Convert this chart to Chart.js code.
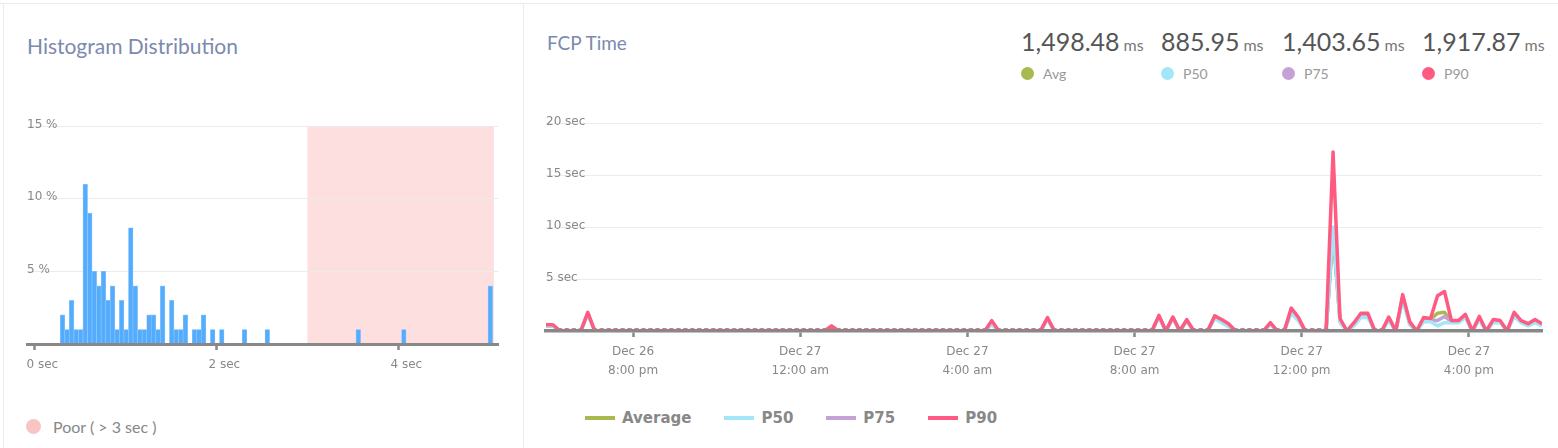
<!DOCTYPE html>
<html>
<head>
<meta charset="utf-8">
<title>FCP Time</title>
<script src="https://cdn.jsdelivr.net/npm/chart.js@4.4.1/dist/chart.umd.min.js"></script>
<style>
  body { margin: 0; width: 1558px; height: 448px; overflow: hidden; background: #fff; position: relative; font-family: Lato, "Noto Sans", sans-serif; }
  .edge { position: absolute; background: #ececec; }
  .title { position: absolute; font-size: 19px; line-height: 24px; color: #7b8aae; white-space: nowrap; }
  .box { position: absolute; }
  .stat { position: absolute; top: 26px; line-height: 30px; white-space: nowrap; color: #555; }
  .stat b { font-weight: 400; font-size: 25px; }
  .stat span { font-size: 16px; color: #777; margin-left: 4px; }
  .key { position: absolute; top: 66px; line-height: 16px; font-size: 14px; color: #999; padding-left: 22px; white-space: nowrap; }
  .key i { position: absolute; left: 0; top: 1px; width: 13px; height: 13px; border-radius: 50%; }
  #legend { position: absolute; left: 585px; top: 407px; white-space: nowrap; font: bold 15px "DejaVu Sans", sans-serif; color: #888; }
  #legend div { display: inline-block; margin-right: 33px; line-height: 22px; }
  #legend i { display: inline-block; width: 30px; height: 4px; margin-right: 7px; vertical-align: middle; position: relative; top: -1px; }
  .poor { position: absolute; left: 26px; top: 416px; font-size: 16px; line-height: 22px; color: #888; padding-left: 27px; white-space: nowrap; }
  .poor i { position: absolute; left: 0; top: 3px; width: 15px; height: 15px; border-radius: 50%; background: #f9c4c4; }
</style>
</head>
<body>
<div class="edge" style="left:0;top:3px;width:1558px;height:1px"></div>
<div class="edge" style="left:3px;top:3px;width:1px;height:445px"></div>
<div class="edge" style="left:523px;top:3px;width:1px;height:445px"></div>

<div class="title" style="left:27px;top:34px;font-size:21px">Histogram Distribution</div>
<div class="title" style="left:547px;top:31px">FCP Time</div>

<div class="box" style="left:0;top:100px;width:520px;height:290px"><canvas id="histChart" width="520" height="290"></canvas></div>
<div class="poor"><i></i>Poor ( &gt; 3 sec )</div>

<div id="stats"></div>
<div class="box" style="left:523px;top:95px;width:1035px;height:300px"><canvas id="fcpChart" width="1035" height="300"></canvas></div>
<div id="legend"></div>

<script>
// histogram buckets (0.05 s wide), centre of bucket in seconds -> share of loads in %
const histSec = [0.31, 0.36, 0.41, 0.46, 0.51, 0.56, 0.61, 0.66, 0.71, 0.76, 0.81, 0.86, 0.91, 0.96, 1.01, 1.06,
                 1.11, 1.16, 1.21, 1.26, 1.31, 1.36, 1.41, 1.51, 1.56, 1.61, 1.66, 1.76, 1.81, 1.86, 1.96, 2.06,
                 2.31, 2.56, 3.56, 4.06, 5.01];
const histPct = [2, 1, 3, 1, 1, 11, 9, 5, 4, 5, 3, 4, 1, 3, 1, 8,
                 4, 1, 1, 2, 2, 1, 4, 3, 1, 1, 2, 1, 1, 2, 1, 1,
                 1, 1, 1, 1, 4];
const histTicks = [0, 2, 4];
const poorFrom = 3;
const poorTo = 5.05;

// FCP over time, one sample every 10 min starting Dec 26 5:55 pm (x = minutes after 6:00 pm)
const firstSample = -5;
const sampleStep = 10;
const p90Sec = [
  0.6, 0.6, 0, 0, 0, 0, 1.8, 0, 0, 0, 0, 0,
  0, 0, 0, 0, 0, 0, 0, 0, 0, 0, 0, 0,
  0, 0, 0, 0, 0, 0, 0, 0, 0, 0, 0, 0,
  0, 0, 0, 0, 0, 0.5, 0, 0, 0, 0, 0, 0,
  0, 0, 0, 0, 0, 0, 0, 0, 0, 0, 0, 0,
  0, 0, 0, 0, 1.0, 0, 0, 0, 0, 0, 0, 0,
  1.3, 0, 0, 0, 0, 0, 0, 0, 0, 0, 0, 0,
  0, 0, 0, 0, 1.5, 0, 1.35, 0, 1.1, 0, 0, 0,
  1.45, 1.1, 0.7, 0, 0, 0, 0, 0, 0.8, 0, 0, 2.2,
  1.35, 0, 0, 0, 0, 17.2, 1.2, 0, 0.8, 1.7, 1.7, 0,
  0, 1.35, 0, 3.5, 0.9, 0, 1.3, 1.2, 3.4, 3.8, 1.0, 1.0,
  1.6, 0, 1.4, 0, 1.1, 1.0, 0, 1.8, 1.0, 0.7, 1.1, 0.7
];
const p75Sec = [
  0.5, 0.5, 0, 0, 0, 0, 1.7, 0, 0, 0, 0, 0,
  0, 0, 0, 0, 0, 0, 0, 0, 0, 0, 0, 0,
  0, 0, 0, 0, 0, 0, 0, 0, 0, 0, 0, 0,
  0, 0, 0, 0, 0, 0.4, 0, 0, 0, 0, 0, 0,
  0, 0, 0, 0, 0, 0, 0, 0, 0, 0, 0, 0,
  0, 0, 0, 0, 0.8, 0, 0, 0, 0, 0, 0, 0,
  1.2, 0, 0, 0, 0, 0, 0, 0, 0, 0, 0, 0,
  0, 0, 0, 0, 1.4, 0, 1.3, 0, 1.0, 0, 0, 0,
  1.35, 0.95, 0.6, 0, 0, 0, 0, 0, 0.7, 0, 0, 2.0,
  1.2, 0, 0, 0, 0, 9.6, 1.0, 0, 0.7, 1.5, 1.5, 0,
  0, 1.2, 0, 3.3, 0.8, 0, 1.0, 1.0, 1.0, 1.4, 0.9, 0.9,
  1.4, 0, 1.2, 0, 0.9, 0.9, 0, 1.6, 0.9, 0.6, 0.9, 0.6
];
const p50Sec = [
  0.5, 0.5, 0, 0, 0, 0, 1.6, 0, 0, 0, 0, 0,
  0, 0, 0, 0, 0, 0, 0, 0, 0, 0, 0, 0,
  0, 0, 0, 0, 0, 0, 0, 0, 0, 0, 0, 0,
  0, 0, 0, 0, 0, 0.4, 0, 0, 0, 0, 0, 0,
  0, 0, 0, 0, 0, 0, 0, 0, 0, 0, 0, 0,
  0, 0, 0, 0, 0.6, 0, 0, 0, 0, 0, 0, 0,
  1.1, 0, 0, 0, 0, 0, 0, 0, 0, 0, 0, 0,
  0, 0, 0, 0, 1.3, 0, 1.2, 0, 1.0, 0, 0, 0,
  1.2, 0.8, 0.4, 0, 0, 0, 0, 0, 0.6, 0, 0, 1.7,
  1.0, 0, 0, 0, 0, 10.0, 0.8, 0, 0.5, 1.3, 1.3, 0,
  0, 1.0, 0, 3.0, 0.6, 0, 0.9, 0.9, 0.5, 0.8, 0.8, 0.8,
  1.3, 0, 1.1, 0, 0.8, 0.8, 0, 1.4, 0.8, 0.5, 0.8, 0.5
];
const avgSec = [
  0.5, 0.5, 0, 0, 0, 0, 1.7, 0, 0, 0, 0, 0,
  0, 0, 0, 0, 0, 0, 0, 0, 0, 0, 0, 0,
  0, 0, 0, 0, 0, 0, 0, 0, 0, 0, 0, 0,
  0, 0, 0, 0, 0, 0.4, 0, 0, 0, 0, 0, 0,
  0, 0, 0, 0, 0, 0, 0, 0, 0, 0, 0, 0,
  0, 0, 0, 0, 0.8, 0, 0, 0, 0, 0, 0, 0,
  1.2, 0, 0, 0, 0, 0, 0, 0, 0, 0, 0, 0,
  0, 0, 0, 0, 1.4, 0, 1.3, 0, 1.0, 0, 0, 0,
  1.3, 0.9, 0.5, 0, 0, 0, 0, 0, 0.7, 0, 0, 1.9,
  1.2, 0, 0, 0, 0, 9.4, 1.0, 0, 0.7, 1.5, 1.5, 0,
  0, 1.2, 0, 3.2, 0.8, 0, 1.1, 1.1, 1.7, 1.8, 1.0, 0.9,
  1.4, 0, 1.2, 0, 0.9, 0.9, 0, 1.6, 0.9, 0.6, 0.9, 0.6
];
const timeTicks = [120, 360, 600, 840, 1080, 1320];
const timeTickLabels = [['Dec 26', '8:00 pm'], ['Dec 27', '12:00 am'], ['Dec 27', '4:00 am'],
                        ['Dec 27', '8:00 am'], ['Dec 27', '12:00 pm'], ['Dec 27', '4:00 pm']];

const statNames = ['Avg', 'P50', 'P75', 'P90'];
const statValues = ['1,498.48', '885.95', '1,403.65', '1,917.87'];
const legendNames = ['Average', 'P50', 'P75', 'P90'];

const colors = ['#a9b94f', '#a3e6f8', '#c4a2d6', '#ff5a82'];
const statLeft = [1021, 1161, 1282, 1422];

Chart.defaults.font.family = '"DejaVu Sans", Verdana, sans-serif';
Chart.defaults.font.size = 12;
Chart.defaults.color = '#888';

// header numbers + legend
let statsHtml = '';
statNames.forEach((name, i) => {
    statsHtml += `<div class="stat" style="left:${statLeft[i]}px"><b>${statValues[i]}</b><span>ms</span></div>`;
    statsHtml += `<div class="key" style="left:${statLeft[i]}px"><i style="background:${colors[i]}"></i>${name}</div>`;
});
document.getElementById('stats').innerHTML = statsHtml;
document.getElementById('legend').innerHTML = legendNames
    .map((n, i) => `<div><i style="background:${colors[i]}"></i>${n}</div>`).join('');

const axisTicks = {font: {size: 12, lineHeight: 1.55}, color: '#888', padding: 6};

// pink "poor" zone behind the histogram bars
const poorZone = {
    id: 'poorZone',
    beforeDraw(chart) {
        const {ctx, scales: {x, y}} = chart;
        const left = x.getPixelForValue(poorFrom);
        const right = x.getPixelForValue(poorTo);
        const top = y.getPixelForValue(y.max);
        const bottom = y.getPixelForValue(0);
        ctx.save();
        ctx.fillStyle = '#fddfe0';
        ctx.fillRect(left, top, right - left, bottom - top);
        ctx.restore();
    }
};

new Chart(document.getElementById('histChart').getContext('2d'), {
    type: 'bar',
    data: {
        datasets: [{
            data: histSec.map((s, i) => ({x: s, y: histPct[i]})),
            backgroundColor: '#55acfd',
            borderColor: '#8fcaff',
            borderWidth: {left: 0.6, right: 0.6, top: 0.6, bottom: 0},
            categoryPercentage: 1,
            barPercentage: 1
        }]
    },
    plugins: [poorZone],
    options: {
        responsive: false,
        animation: false,
        events: [],
        layout: {padding: {left: 27, right: 21.5, top: 26, bottom: 9.4}},
        plugins: {legend: {display: false}, tooltip: {enabled: false}},
        scales: {
            x: {
                type: 'linear',
                offset: false,
                min: -0.08,
                max: 5.1,
                afterBuildTicks: s => { s.ticks = histTicks.map(v => ({value: v})); },
                grid: {offset: false, drawOnChartArea: false, tickLength: 6, tickWidth: 2.5, tickColor: '#888'},
                border: {color: '#888', width: 3, z: 1},
                ticks: {...axisTicks, labelOffset: 8, callback: v => v + ' sec'}
            },
            y: {
                min: 0,
                max: 15,
                ticks: {...axisTicks, stepSize: 5, mirror: true, padding: 0, labelOffset: -1.5,
                        callback: v => v === 0 ? '' : v + ' %'},
                grid: {color: '#ebebeb', drawTicks: false},
                border: {display: false}
            }
        }
    }
});

function series(label, values, color) {
    return {
        label: label,
        data: values.map((v, i) => ({x: firstSample + i * sampleStep, y: v})),
        borderColor: color,
        backgroundColor: color,
        pointBackgroundColor: color,
        borderWidth: 3.5,
        borderJoinStyle: 'round',
        tension: 0,
        fill: false,
        pointRadius: c => (c.raw && c.raw.y === 0) ? 3 : 0,
        pointBorderWidth: 0,
        pointHoverRadius: 0
    };
}

// first dataset ends up on top, so P90 goes first
new Chart(document.getElementById('fcpChart').getContext('2d'), {
    type: 'line',
    data: {
        datasets: [
            series('P90', p90Sec, colors[3]),
            series('P50', p50Sec, colors[1]),
            series('P75', p75Sec, colors[2]),
            series('Average', avgSec, colors[0])
        ]
    },
    options: {
        responsive: false,
        animation: false,
        events: [],
        layout: {padding: {left: 23, right: 16, top: 28, bottom: 8.8}},
        plugins: {legend: {display: false}, tooltip: {enabled: false}},
        scales: {
            x: {
                type: 'linear',
                min: firstSample,
                max: firstSample + (p90Sec.length - 1) * sampleStep,
                afterBuildTicks: s => { s.ticks = timeTicks.map(v => ({value: v})); },
                grid: {drawOnChartArea: false, tickLength: 6, tickWidth: 2.5, tickColor: '#888'},
                border: {color: '#888', width: 3.5, z: 1},
                ticks: {...axisTicks, callback: (v, i) => timeTickLabels[i]}
            },
            y: {
                min: 0,
                max: 20,
                ticks: {...axisTicks, stepSize: 5, mirror: true, padding: 0, labelOffset: -1.5,
                        callback: v => v === 0 ? '' : v + ' sec'},
                grid: {color: '#ebebeb', drawTicks: false},
                border: {display: false}
            }
        }
    }
});
</script>
</body>
</html>
